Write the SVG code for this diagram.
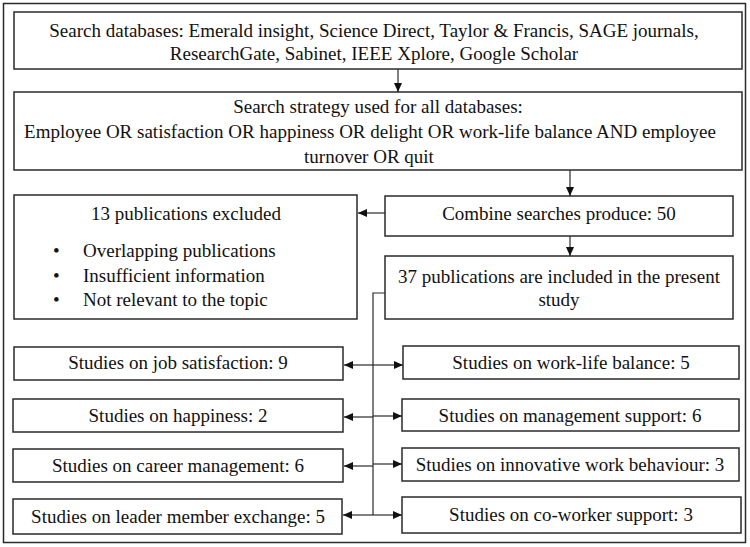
<svg xmlns="http://www.w3.org/2000/svg" width="750" height="547" viewBox="0 0 750 547">
<style>
.box{fill:#fff;stroke:#2a2a2a;stroke-width:1.5}
.frame{fill:#fff;stroke:#2a2a2a;stroke-width:1.5}
text{font-family:"Liberation Serif","Times New Roman",serif;font-size:19px;fill:#111}
.c{text-anchor:middle}
.ln{fill:none;stroke:#2a2a2a;stroke-width:1.2}
</style>
<defs>
<marker id="ah" viewBox="0 0 10 10" refX="10" refY="5" markerWidth="9" markerHeight="8" markerUnits="userSpaceOnUse" orient="auto" preserveAspectRatio="none">
<path d="M0,0 L10,5 L0,10 z" fill="#111"/>
</marker>
</defs>
<rect class="frame" x="3.5" y="3.5" width="742" height="539"/>
<g id="n-databases">
<rect class="box" x="14" y="12" width="728" height="57"/>
<text class="c" x="374" y="37">Search databases: Emerald insight, Science Direct, Taylor &amp; Francis, SAGE journals,</text>
<text class="c" x="374" y="60">ResearchGate, Sabinet, IEEE Xplore, Google Scholar</text>
</g>
<g id="n-strategy">
<rect class="box" x="14" y="92" width="728" height="78"/>
<text class="c" x="378" y="113">Search strategy used for all databases:</text>
<text class="c" x="370" y="138">Employee OR satisfaction OR happiness OR delight OR work-life balance AND employee</text>
<text class="c" x="369" y="163">turnover OR quit</text>
</g>
<g id="n-combine">
<rect class="box" x="385" y="196" width="348" height="40"/>
<text class="c" x="559" y="220">Combine searches produce: 50</text>
</g>
<g id="n-excluded">
<rect class="box" x="14" y="195" width="343" height="124"/>
<text class="c" x="186" y="220">13 publications excluded</text>
<text x="53" y="257">•</text><text x="83" y="257">Overlapping publications</text>
<text x="53" y="282">•</text><text x="83" y="282">Insufficient information</text>
<text x="53" y="306">•</text><text x="83" y="306">Not relevant to the topic</text>
</g>
<g id="n-included">
<rect class="box" x="385" y="256" width="348" height="63"/>
<text class="c" x="559" y="283">37 publications are included in the present</text>
<text class="c" x="559" y="306">study</text>
</g>
<g id="n-job">
<rect class="box" x="14" y="347" width="329" height="33"/>
<text class="c" x="178" y="369">Studies on job satisfaction: 9</text>
</g>
<g id="n-happiness">
<rect class="box" x="13" y="399" width="330" height="33"/>
<text class="c" x="178" y="422">Studies on happiness: 2</text>
</g>
<g id="n-career">
<rect class="box" x="13" y="449" width="330" height="33"/>
<text class="c" x="178" y="472">Studies on career management: 6</text>
</g>
<g id="n-lmx">
<rect class="box" x="13" y="499" width="329" height="35"/>
<text class="c" x="178" y="523">Studies on leader member exchange: 5</text>
</g>
<g id="n-wlb">
<rect class="box" x="403" y="346" width="336" height="33"/>
<text class="c" x="571" y="369">Studies on work-life balance: 5</text>
</g>
<g id="n-mgmt">
<rect class="box" x="402" y="399" width="337" height="32"/>
<text class="c" x="570" y="422">Studies on management support: 6</text>
</g>
<g id="n-iwb">
<rect class="box" x="402" y="448" width="337" height="33"/>
<text class="c" x="570" y="471">Studies on innovative work behaviour: 3</text>
</g>
<g id="n-cws">
<rect class="box" x="402" y="497" width="339" height="36"/>
<text class="c" x="571" y="521">Studies on co-worker support: 3</text>
</g>
<g id="connectors">
<line class="ln" x1="398" y1="69" x2="398" y2="92" marker-end="url(#ah)"/>
<line class="ln" x1="570" y1="170" x2="570" y2="196" marker-end="url(#ah)"/>
<line class="ln" x1="570" y1="236" x2="570" y2="256" marker-end="url(#ah)"/>
<line class="ln" x1="385" y1="213" x2="358" y2="213" marker-end="url(#ah)"/>
<path class="ln" d="M385,293 H373 V515"/>
<line class="ln" x1="373" y1="365" x2="344" y2="365" marker-end="url(#ah)"/>
<line class="ln" x1="373" y1="417" x2="344" y2="417" marker-end="url(#ah)"/>
<line class="ln" x1="373" y1="466" x2="344" y2="466" marker-end="url(#ah)"/>
<line class="ln" x1="373" y1="515" x2="343" y2="515" marker-end="url(#ah)"/>
<line class="ln" x1="373" y1="365" x2="403" y2="365" marker-end="url(#ah)"/>
<line class="ln" x1="373" y1="416" x2="402" y2="416" marker-end="url(#ah)"/>
<line class="ln" x1="373" y1="464" x2="402" y2="464" marker-end="url(#ah)"/>
<line class="ln" x1="373" y1="515" x2="402" y2="515" marker-end="url(#ah)"/>
</g>
</svg>
